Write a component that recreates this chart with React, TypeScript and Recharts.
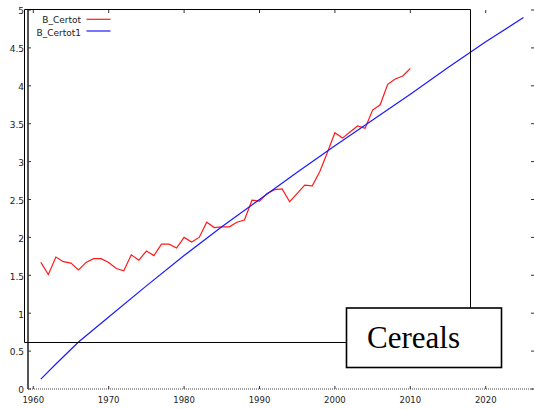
import React from "react";
import { LineChart, Line, XAxis, YAxis } from "recharts";

// ---- data ----
const certotYears = [
  1961, 1962, 1963, 1964, 1965, 1966, 1967, 1968, 1969, 1970,
  1971, 1972, 1973, 1974, 1975, 1976, 1977, 1978, 1979, 1980,
  1981, 1982, 1983, 1984, 1985, 1986, 1987, 1988, 1989, 1990,
  1991, 1992, 1993, 1994, 1995, 1996, 1997, 1998, 1999, 2000,
  2001, 2002, 2003, 2004, 2005, 2006, 2007, 2008, 2009, 2010,
];
const certotValues = [
  1.67, 1.51, 1.74, 1.68, 1.66, 1.57, 1.67, 1.72, 1.72, 1.67,
  1.59, 1.56, 1.77, 1.7, 1.82, 1.76, 1.91, 1.91, 1.86, 2.0,
  1.94, 2.0, 2.2, 2.13, 2.14, 2.14, 2.2, 2.23, 2.49, 2.48,
  2.58, 2.63, 2.64, 2.47, 2.58, 2.69, 2.68, 2.87, 3.12, 3.38,
  3.31, 3.39, 3.47, 3.44, 3.68, 3.75, 4.02, 4.09, 4.13, 4.23,
];
const certot1Years = [1961, 1963, 1966, 1970, 1975, 1980, 1985, 1990, 1995, 2000, 2005, 2010, 2015, 2020, 2025];
const certot1Values = [0.13, 0.33, 0.62, 0.95, 1.36, 1.76, 2.14, 2.5, 2.86, 3.21, 3.55, 3.89, 4.24, 4.58, 4.9];

const xTicks = [1960, 1970, 1980, 1990, 2000, 2010, 2020];
const yTicks = [0, 0.5, 1, 1.5, 2, 2.5, 3, 3.5, 4, 4.5, 5];
const seriesNames = ["B_Certot", "B_Certot1"];
const seriesColors = ["#ff1a1a", "#1a1aff"];
const annotationLabel = "Cereals";

const certotData = certotYears.map((year, i) => ({ year, v: certotValues[i] }));
const certot1Data = certot1Years.map((year, i) => ({ year, v: certot1Values[i] }));

// ---- layout ----
const W = 534;
const H = 409;
const PLOT_LEFT = 28;
const PLOT_RIGHT = 534;
const PLOT_TOP = 10;
const PLOT_BOTTOM = 389;
const FONT = "'DejaVu Sans', Verdana, sans-serif";

const YTick = (props: any) => {
  const { x, y, payload } = props;
  return (
    <g>
      <line x1={PLOT_LEFT} x2={PLOT_LEFT + 3} y1={y} y2={y} stroke="#333" />
      <line x1={PLOT_RIGHT - 3} x2={PLOT_RIGHT} y1={y} y2={y} stroke="#333" />
      <text x={x} y={y + 4.3} textAnchor="end" fontSize={9} fill="#222" fontFamily={FONT}>
        {payload.value}
      </text>
    </g>
  );
};

const XTick = (props: any) => {
  const { x, payload } = props;
  return (
    <g>
      <line x1={x} x2={x} y1={PLOT_BOTTOM - 3} y2={PLOT_BOTTOM} stroke="#333" />
      <line x1={x} x2={x} y1={PLOT_TOP} y2={PLOT_TOP + 3} stroke="#333" />
      <text x={x} y={403} textAnchor="middle" fontSize={8.5} fill="#222" fontFamily={FONT}>
        {payload.value}
      </text>
    </g>
  );
};

export default function App() {
  return (
    <div style={{ position: "absolute", left: 0, top: 0, width: W, height: H, background: "#fff" }}>
      <LineChart
        width={W}
        height={H}
        margin={{ top: PLOT_TOP, right: 0, bottom: 0, left: 0 }}
        style={{ fontFamily: FONT }}
      >
        <XAxis
          xAxisId="b"
          dataKey="year"
          type="number"
          domain={[1959.3, 2026.4]}
          ticks={xTicks}
          height={20}
          tickSize={0}
          tickLine={false}
          tick={<XTick />}
          axisLine={{ stroke: "#444", strokeDasharray: "1 1" }}
          allowDuplicatedCategory={false}
        />
        <XAxis
          xAxisId="t"
          orientation="top"
          dataKey="year"
          type="number"
          domain={[1959.3, 2026.4]}
          height={0}
          tick={false}
          tickLine={false}
          axisLine={{ stroke: "#555", strokeWidth: 1.5 }}
        />
        <YAxis
          yAxisId="l"
          type="number"
          domain={[0, 5]}
          ticks={yTicks}
          width={PLOT_LEFT}
          tickSize={0}
          tickMargin={4}
          tickLine={false}
          tick={<YTick />}
          axisLine={{ stroke: "#555", strokeWidth: 2 }}
        />
        <Line
          xAxisId="b"
          yAxisId="l"
          data={certotData}
          dataKey="v"
          name={seriesNames[0]}
          type="linear"
          stroke={seriesColors[0]}
          strokeWidth={1.2}
          dot={false}
          isAnimationActive={false}
        />
        <Line
          xAxisId="b"
          yAxisId="l"
          data={certot1Data}
          dataKey="v"
          name={seriesNames[1]}
          type="linear"
          stroke={seriesColors[1]}
          strokeWidth={1.2}
          dot={false}
          isAnimationActive={false}
        />
      </LineChart>
      <svg
        width={W}
        height={H}
        style={{ position: "absolute", left: 0, top: 0, pointerEvents: "none" }}
      >
        {/* legend */}
        {seriesNames.map((name, i) => (
          <g key={name}>
            <text
              x={81}
              y={23.3 + i * 12.3}
              textAnchor="end"
              fontSize={9}
              fill="#222"
              fontFamily={FONT}
            >
              {name}
            </text>
            <line
              x1={86.5}
              x2={110.5}
              y1={19.3 + i * 11.7}
              y2={19.3 + i * 11.7}
              stroke={seriesColors[i]}
              strokeWidth={1.2}
            />
          </g>
        ))}
        {/* annotation frame */}
        <path d="M24.5 342.5 V9.5 H470.5 V308" fill="none" stroke="#000" strokeWidth={1} />
        <line x1={24.5} x2={346} y1={342.5} y2={342.5} stroke="#000" strokeWidth={1} />
        <rect x={346.5} y={308} width={155} height={59.5} fill="#fff" stroke="#000" strokeWidth={1.6} />
        <text
          x={367}
          y={348}
          fontSize={31}
          fill="#000"
          fontFamily="'Liberation Serif', 'Times New Roman', serif"
        >
          {annotationLabel}
        </text>
      </svg>
    </div>
  );
}
